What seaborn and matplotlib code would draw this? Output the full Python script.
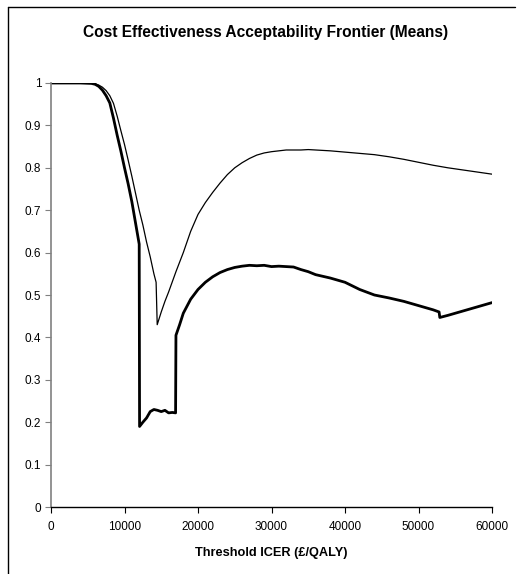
import matplotlib
matplotlib.use("Agg")
import matplotlib.pyplot as plt
import seaborn as sns
import pandas as pd
from matplotlib.lines import Line2D

# ---- data ----
frontier_x = [0, 2000, 4000, 5500, 6000, 6500, 7000, 7500, 8000, 8500, 9000, 9500,
              10000, 10500, 11000, 11500, 12000, 12050, 12500, 13000, 13500, 14000,
              14500, 15000, 15500, 16000, 16500, 16950, 17000, 17500, 18000, 19000,
              20000, 21000, 22000, 23000, 24000, 25000, 26000, 27000, 28000, 29000,
              30000, 31000, 32000, 33000, 34000, 35000, 36000, 38000, 40000, 42000,
              44000, 46000, 48000, 50000, 52000, 52800, 52900, 54000, 56000, 58000, 60000]
frontier_y = [1, 1, 1, 0.999, 0.997, 0.992, 0.983, 0.97, 0.953, 0.917, 0.877, 0.84,
              0.80, 0.762, 0.72, 0.67, 0.62, 0.19, 0.20, 0.21, 0.225, 0.23,
              0.228, 0.225, 0.228, 0.222, 0.223, 0.222, 0.405, 0.43, 0.457, 0.49,
              0.513, 0.53, 0.543, 0.553, 0.56, 0.565, 0.568, 0.57, 0.569, 0.57,
              0.567, 0.568, 0.567, 0.566, 0.56, 0.555, 0.548, 0.54, 0.53, 0.513,
              0.50, 0.493, 0.485, 0.475, 0.465, 0.46, 0.447, 0.452, 0.462, 0.472, 0.482]

upper_x = [0, 2000, 4000, 5500, 6000, 6500, 7000, 7500, 8000, 8500, 9000, 9500,
           10000, 10500, 11000, 11500, 12000, 12500, 13000, 13500, 14000, 14300,
           14450, 15000, 15500, 16000, 17000, 18000, 19000, 20000, 21000, 22000,
           23000, 24000, 25000, 26000, 27000, 28000, 29000, 30000, 31000, 32000,
           33000, 34000, 35000, 36000, 38000, 40000, 42000, 44000, 46000, 48000,
           50000, 52000, 54000, 56000, 58000, 60000]
upper_y = [1, 1, 1, 1, 0.998, 0.995, 0.99, 0.982, 0.97, 0.952, 0.922, 0.888,
           0.855, 0.818, 0.78, 0.74, 0.70, 0.665, 0.625, 0.59, 0.55, 0.53,
           0.43, 0.46, 0.485, 0.507, 0.555, 0.60, 0.65, 0.69, 0.718, 0.742,
           0.764, 0.784, 0.80, 0.812, 0.822, 0.83, 0.835, 0.838, 0.84, 0.842,
           0.842, 0.842, 0.843, 0.842, 0.84, 0.837, 0.834, 0.831, 0.826, 0.82,
           0.813, 0.806, 0.80, 0.795, 0.79, 0.785]

x_ticks = [0, 10000, 20000, 30000, 40000, 50000, 60000]
y_ticks = [0, 0.1, 0.2, 0.3, 0.4, 0.5, 0.6, 0.7, 0.8, 0.9, 1]
y_tick_labels = ["0", "0.1", "0.2", "0.3", "0.4", "0.5", "0.6", "0.7", "0.8", "0.9", "1"]

title = "Cost Effectiveness Acceptability Frontier (Means)"
x_label = "Threshold ICER (\u00a3/QALY)"

# ---- plot ----
sns.set_style("white")
plt.rcParams['font.family'] = ['Liberation Sans', 'DejaVu Sans']

fig = plt.figure(figsize=(5.19, 5.74), dpi=100)
ax = fig.add_axes([51/519, (574-507)/574, 441/519, 424/574])

df_up = pd.DataFrame({"x": upper_x, "y": upper_y})
df_fr = pd.DataFrame({"x": frontier_x, "y": frontier_y})
sns.lineplot(data=df_up, x="x", y="y", ax=ax, color="black", linewidth=0.9,
             estimator=None, sort=False)
sns.lineplot(data=df_fr, x="x", y="y", ax=ax, color="black", linewidth=2.0,
             estimator=None, sort=False)

ax.set_xlim(0, 60000)
ax.set_ylim(0, 1)
ax.set_xticks(x_ticks)
ax.set_xticklabels([str(v) for v in x_ticks])
ax.set_yticks(y_ticks)
ax.set_yticklabels(y_tick_labels)
ax.tick_params(axis="both", direction="out", length=4, width=0.8, labelsize=8.5,
               colors="black", left=True, bottom=True)
ax.tick_params(axis="y", pad=3, color="#808080")
ax.tick_params(axis="x", pad=6)
for s in ["top", "right"]:
    ax.spines[s].set_visible(False)
ax.spines["left"].set_color("#808080")
ax.spines["left"].set_linewidth(1.2)
ax.spines["bottom"].set_color("black")
ax.spines["bottom"].set_linewidth(1.0)
ax.set_xlabel(x_label, fontsize=9.2, fontweight="bold", labelpad=10, color="black")
ax.set_ylabel("")
fig.text(266/519, 1 - 33/574, title, ha="center", va="center",
         fontsize=11.2, fontweight="bold", color="black")

# outer frame (left and top edges)
fig.add_artist(Line2D([8/519, 8/519], [0, 1 - 7/574], transform=fig.transFigure,
                      color="black", linewidth=1.0))
fig.add_artist(Line2D([8/519, 515/519], [1 - 7/574, 1 - 7/574], transform=fig.transFigure,
                      color="black", linewidth=1.0))

fig.savefig("out.png", dpi=100)
